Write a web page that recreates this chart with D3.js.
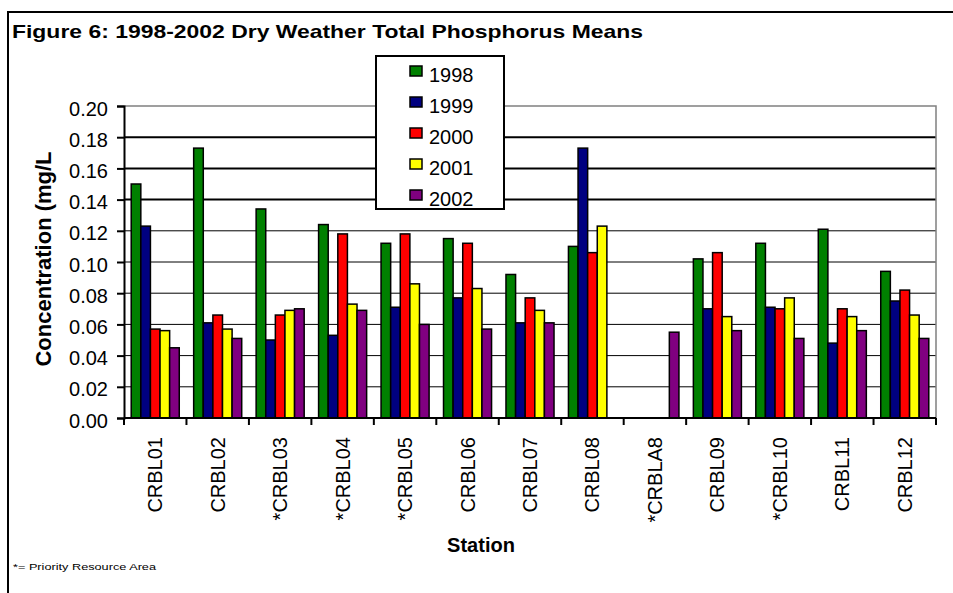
<!DOCTYPE html>
<html>
<head>
<meta charset="utf-8">
<script src="https://cdn.jsdelivr.net/npm/d3@7"></script>
<style>
  html, body { margin: 0; padding: 0; background: #fff; }
  svg { display: block; }
  text { font-family: "Liberation Sans", Arimo, Arial, sans-serif; fill: #000; }
</style>
</head>
<body>
<svg id="chart" width="953" height="593"></svg>
<script>
// ---- data ----
const stations = ["CRBL01","CRBL02","*CRBL03","*CRBL04","*CRBL05","CRBL06","CRBL07","CRBL08","*CRBLA8","CRBL09","*CRBL10","CRBL11","CRBL12"];
const years = ["1998","1999","2000","2001","2002"];
const v1998 = [0.150, 0.173, 0.134, 0.124, 0.112, 0.115, 0.092, 0.110, null, 0.102, 0.112, 0.121, 0.094];
const v1999 = [0.123, 0.061, 0.050, 0.053, 0.071, 0.077, 0.061, 0.173, null, 0.070, 0.071, 0.048, 0.075];
const v2000 = [0.057, 0.066, 0.066, 0.118, 0.118, 0.112, 0.077, 0.106, null, 0.106, 0.070, 0.070, 0.082];
const v2001 = [0.056, 0.057, 0.069, 0.073, 0.086, 0.083, 0.069, 0.123, null, 0.065, 0.077, 0.065, 0.066];
const v2002 = [0.045, 0.051, 0.070, 0.069, 0.060, 0.057, 0.061, null, 0.055, 0.056, 0.051, 0.056, 0.051];
const yTicks = [0, 0.02, 0.04, 0.06, 0.08, 0.10, 0.12, 0.14, 0.16, 0.18, 0.20];
const colors = ["#008000", "#000080", "#ff0000", "#ffff00", "#800080"];
const title = "Figure 6: 1998-2002 Dry Weather Total Phosphorus Means";
const yTitle = "Concentration (mg/L";
const xTitle = "Station";
const footnote = "*= Priority Resource Area";

const seriesValues = [v1998, v1999, v2000, v2001, v2002];

// ---- layout ----
const FONT = "'Liberation Sans', Arimo, Arial, sans-serif";
const svg = d3.select("#chart");
const plot = { left: 124, right: 936, top: 106, bottom: 418 };

const x0 = d3.scaleBand().domain(stations).range([plot.left, plot.right]).paddingInner(0).paddingOuter(0);
const x1 = d3.scaleBand().domain(years).range([0, x0.bandwidth()]).paddingInner(0).paddingOuter(0.75);
const y = d3.scaleLinear().domain([0, 0.2]).range([plot.bottom, plot.top]);

// outer frame
svg.append("path")
  .attr("d", "M8,593 V12 H953")
  .attr("fill", "none").attr("stroke", "#000").attr("stroke-width", 2);

// title
svg.append("text")
  .attr("x", 12).attr("y", 38)
  .attr("font-size", 19).attr("font-weight", "bold")
  .attr("textLength", 631).attr("lengthAdjust", "spacingAndGlyphs")
  .text(title);

// gridlines
const thick = new Set([0.14, 0.16, 0.18]);
svg.append("g").selectAll("line")
  .data(yTicks.filter(t => t > 0 && t < 0.2))
  .join("line")
  .attr("x1", plot.left).attr("x2", plot.right)
  .attr("y1", d => y(d)).attr("y2", d => y(d))
  .attr("stroke", "#000")
  .attr("stroke-width", d => thick.has(+d.toFixed(2)) ? 2 : 1);

// plot border (gray top & right)
svg.append("path")
  .attr("d", `M${plot.left},${y(0.2)} H${plot.right} V${plot.bottom}`)
  .attr("fill", "none").attr("stroke", "#808080").attr("stroke-width", 1.5);

// bars
const groups = svg.append("g").selectAll("g")
  .data(stations)
  .join("g")
  .attr("transform", d => `translate(${x0(d)},0)`);

groups.selectAll("rect")
  .data((d, i) => years.map((yr, k) => ({ yr, k, v: seriesValues[k][i] })).filter(e => e.v != null))
  .join("rect")
  .attr("x", d => x1(d.yr))
  .attr("width", x1.bandwidth())
  .attr("y", d => y(d.v))
  .attr("height", d => y(0) - y(d.v))
  .attr("fill", d => colors[d.k])
  .attr("stroke", "#000").attr("stroke-width", 1.5);

// y axis
const yAxis = d3.axisLeft(y).tickValues(yTicks).tickFormat(d3.format(".2f")).tickSize(7).tickPadding(9);
const gy = svg.append("g").attr("transform", `translate(${plot.left},0)`).call(yAxis);
gy.select(".domain").attr("stroke", "#000").attr("stroke-width", 2);
gy.selectAll(".tick line").attr("stroke", "#000").attr("stroke-width", 2);
gy.selectAll(".tick text")
  .attr("font-size", 20).attr("font-family", FONT)
  .attr("fill", "#000").attr("dy", "0.45em");

// x axis: ticks at category boundaries
const boundaries = stations.map(s => x0(s)).concat([plot.right]);
svg.append("line")
  .attr("x1", plot.left).attr("x2", plot.right)
  .attr("y1", plot.bottom).attr("y2", plot.bottom)
  .attr("stroke", "#000").attr("stroke-width", 2);
svg.append("g").selectAll("line")
  .data(boundaries)
  .join("line")
  .attr("x1", d => d).attr("x2", d => d)
  .attr("y1", plot.bottom).attr("y2", plot.bottom + 7)
  .attr("stroke", "#000").attr("stroke-width", 2);

// x category labels
svg.append("g").selectAll("text")
  .data(stations)
  .join("text")
  .attr("transform", d => `translate(${x0(d) + x0.bandwidth() / 2 + 7},437) rotate(-90)`)
  .attr("text-anchor", "end")
  .attr("font-size", 20)
  .text(d => d);

// axis titles
svg.append("text")
  .attr("transform", `translate(51,259) rotate(-90)`)
  .attr("text-anchor", "middle")
  .attr("font-size", 22).attr("font-weight", "bold")
  .text(yTitle);

svg.append("text")
  .attr("x", 481).attr("y", 552)
  .attr("text-anchor", "middle")
  .attr("font-size", 20).attr("font-weight", "bold")
  .text(xTitle);

// footnote
svg.append("text")
  .attr("x", 13).attr("y", 570)
  .attr("font-size", 9)
  .attr("textLength", 143).attr("lengthAdjust", "spacingAndGlyphs")
  .text(footnote);

// legend
const lg = svg.append("g");
lg.append("rect")
  .attr("x", 376).attr("y", 56).attr("width", 128).attr("height", 153)
  .attr("fill", "#fff").attr("stroke", "#000").attr("stroke-width", 2);
const items = lg.selectAll("g.item")
  .data(years)
  .join("g").attr("class", "item")
  .attr("transform", (d, i) => `translate(0,${82 + i * 31})`);
items.append("rect")
  .attr("x", 410).attr("y", -16).attr("width", 12).attr("height", 10)
  .attr("fill", (d, i) => colors[i])
  .attr("stroke", "#000").attr("stroke-width", 1.5);
items.append("text")
  .attr("x", 429).attr("y", 0)
  .attr("font-size", 20)
  .text(d => d);
</script>
</body>
</html>
